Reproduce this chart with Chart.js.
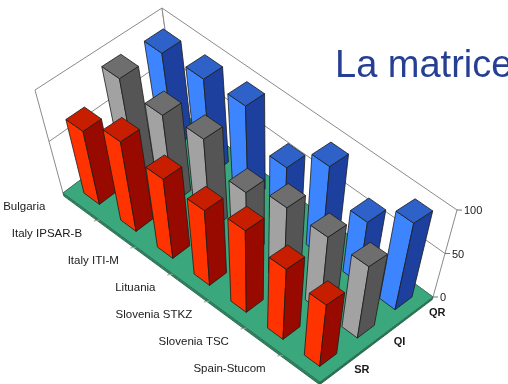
<!DOCTYPE html>
<html>
<head>
<meta charset="utf-8">
<title>La matrice</title>
<script src="https://cdn.jsdelivr.net/npm/chart.js@4.4.1/dist/chart.umd.min.js"></script>
<style>
  html, body { margin: 0; padding: 0; background: #fff; }
  #wrap { position: relative; width: 508px; height: 384px; }
</style>
</head>
<body>
<div id="wrap"><canvas id="matrixChart" width="508" height="384"></canvas></div>
<script>
const categories = ['Bulgaria', 'Italy IPSAR-B', 'Italy ITI-M', 'Lituania', 'Slovenia STKZ', 'Slovenia TSC', 'Spain-Stucom'];
const seriesNames = ['SR', 'QI', 'QR'];
const srValues = [72, 90, 81, 78, 87, 76, 68];
const qiValues = [97, 89, 94, 68, 82, 81, 80];
const qrValues = [95, 98, 100, 65, 97, 67, 98];
const valueTicks = [0, 50, 100];
const titleText = 'La matrice';

// face colours per series: lit front, shaded side, top
const seriesColors = [
  { front: '#ff3300', side: '#980a00', top: '#c81e00' },
  { front: '#a2a2a2', side: '#555555', top: '#6e6e6e' },
  { front: '#3d85ff', side: '#1d409e', top: '#2f62c9' }
];

// corners of the 3D box in view units (a = first category / first series,
// b = last category / first series, c = last category / last series, d = first category / last series)
const floorCorners = { a: [63, 193], b: [320, 382], c: [433, 297], d: [176, 108] };
const roofCorners  = { a: [35, 90],  b: [330, 292], c: [457, 210], d: [162, 8] };

const barWidth = 0.42;   // share of a category slot
const barDepth = 0.45;   // share of a series slot
const slabDepth = -3;    // floor thickness in value units

function lerp2(p, q, k) {
  return [p[0] + (q[0] - p[0]) * k, p[1] + (q[1] - p[1]) * k];
}

function quadPoint(c, s, t) {
  const near = lerp2(c.a, c.b, s);
  const far = lerp2(c.d, c.c, s);
  return lerp2(near, far, t);
}

// u: category position, v: series position, z: value
function project(chart, u, v, z) {
  const ys = chart.scales.y;
  const s = u / categories.length;
  const t = v / seriesNames.length;
  const r = (z - ys.min) / (ys.max - ys.min);
  const p = lerp2(quadPoint(floorCorners, s, t), quadPoint(roofCorners, s, t), r);
  return [chart.scales.vx.getPixelForValue(p[0]), chart.scales.vy.getPixelForValue(p[1])];
}

function poly(ctx, pts, fill, stroke, lw) {
  ctx.beginPath();
  ctx.moveTo(pts[0][0], pts[0][1]);
  for (let k = 1; k < pts.length; k++) ctx.lineTo(pts[k][0], pts[k][1]);
  ctx.closePath();
  if (fill) { ctx.fillStyle = fill; ctx.fill(); }
  if (stroke) { ctx.strokeStyle = stroke; ctx.lineWidth = lw || 1; ctx.stroke(); }
}

function polyline(ctx, pts, stroke, lw) {
  ctx.beginPath();
  ctx.moveTo(pts[0][0], pts[0][1]);
  for (let k = 1; k < pts.length; k++) ctx.lineTo(pts[k][0], pts[k][1]);
  ctx.strokeStyle = stroke;
  ctx.lineWidth = lw || 1;
  ctx.stroke();
}

const bars3d = {
  id: 'bars3d',
  beforeDatasetsDraw(chart) {
    const ctx = chart.ctx;
    const nCat = categories.length;
    const nSer = seriesNames.length;
    const top = chart.scales.y.max;
    const P = (u, v, z) => project(chart, u, v, z);

    ctx.save();
    ctx.lineJoin = 'round';

    // back walls
    poly(ctx, [P(0, 0, 0), P(0, nSer, 0), P(0, nSer, top), P(0, 0, top)], '#ffffff', '#8a8a8a', 1);
    poly(ctx, [P(0, nSer, 0), P(nCat, nSer, 0), P(nCat, nSer, top), P(0, nSer, top)], '#ffffff', '#8a8a8a', 1);
    chart.scales.y.ticks.forEach(tk => {
      if (tk.value <= 0 || tk.value >= top) return;
      polyline(ctx, [P(0, 0, tk.value), P(0, nSer, tk.value), P(nCat, nSer, tk.value)], '#8a8a8a', 1);
    });

    // floor slab
    poly(ctx, [P(0, 0, 0), P(nCat, 0, 0), P(nCat, 0, slabDepth), P(0, 0, slabDepth)], '#2c8560', '#235f46', 0.8);
    poly(ctx, [P(nCat, 0, 0), P(nCat, nSer, 0), P(nCat, nSer, slabDepth), P(nCat, 0, slabDepth)], '#26744f', '#235f46', 0.8);
    poly(ctx, [P(0, 0, 0), P(nCat, 0, 0), P(nCat, nSer, 0), P(0, nSer, 0)], '#3ba77d', '#2b6f52', 0.8);

    // value axis on the right wall edge
    ctx.font = '11px "Liberation Sans", Arial, sans-serif';
    ctx.fillStyle = '#1a1a1a';
    ctx.textAlign = 'left';
    ctx.textBaseline = 'middle';
    chart.scales.y.ticks.forEach(tk => {
      const p = P(nCat, nSer, tk.value);
      polyline(ctx, [p, [p[0] + 5, p[1]]], '#777', 1);
      ctx.fillText(String(tk.value), p[0] + 7, p[1] + 1);
    });

    // category ticks and labels along the front edge
    for (let i = 1; i < nCat; i++) {
      const p = P(i, 0, 0);
      polyline(ctx, [p, [p[0] - 6, p[1] + 1]], '#9a9a9a', 1);
    }
    ctx.font = '11.5px "Liberation Sans", Arial, sans-serif';
    ctx.textAlign = 'right';
    chart.data.labels.forEach((lab, i) => {
      const p = P(i + 0.5, 0, 0);
      ctx.fillText(lab, p[0] - 36, p[1]);
    });

    // series labels along the right edge
    ctx.font = 'bold 11px "Liberation Sans", Arial, sans-serif';
    ctx.textAlign = 'center';
    chart.data.datasets.forEach((ds, j) => {
      const p = P(nCat, j + 0.5, 0);
      ctx.fillText(ds.label, p[0] + 23, p[1] + 2);
    });

    // bars, far series first, then along the categories
    for (let j = nSer - 1; j >= 0; j--) {
      const ds = chart.data.datasets[j];
      const col = seriesColors[j];
      for (let i = 0; i < nCat; i++) {
        const z = ds.data[i];
        const u0 = i + 0.5 - barWidth / 2, u1 = i + 0.5 + barWidth / 2;
        const v0 = j + 0.5 - barDepth / 2, v1 = j + 0.5 + barDepth / 2;
        poly(ctx, [P(u0, v0, 0), P(u1, v0, 0), P(u1, v0, z), P(u0, v0, z)], col.front, '#1c1c1c', 0.8);
        poly(ctx, [P(u1, v0, 0), P(u1, v1, 0), P(u1, v1, z), P(u1, v0, z)], col.side, '#1c1c1c', 0.8);
        poly(ctx, [P(u0, v0, z), P(u1, v0, z), P(u1, v1, z), P(u0, v1, z)], col.top, '#1c1c1c', 0.8);
      }
    }

    // heading
    ctx.font = '38px "Liberation Sans", Arial, sans-serif';
    ctx.fillStyle = '#263f95';
    ctx.textAlign = 'left';
    ctx.textBaseline = 'alphabetic';
    ctx.fillText(titleText, 335, 77);

    ctx.restore();
    return false;
  }
};

new Chart(document.getElementById('matrixChart'), {
  type: 'bar',
  data: {
    labels: categories,
    datasets: [
      { label: seriesNames[0], data: srValues },
      { label: seriesNames[1], data: qiValues },
      { label: seriesNames[2], data: qrValues }
    ]
  },
  options: {
    responsive: false,
    animation: false,
    layout: { autoPadding: false, padding: 0 },
    plugins: { legend: { display: false }, tooltip: { enabled: false } },
    scales: {
      x: { display: false },
      y: { display: false, min: valueTicks[0], max: valueTicks[valueTicks.length - 1], ticks: { stepSize: 50 } },
      vx: { type: 'linear', axis: 'x', display: false, offset: false, grid: { offset: false }, min: 0, max: 508 },
      vy: { type: 'linear', axis: 'y', display: false, offset: false, min: 0, max: 384, reverse: true }
    }
  },
  plugins: [bars3d]
});
</script>
</body>
</html>
